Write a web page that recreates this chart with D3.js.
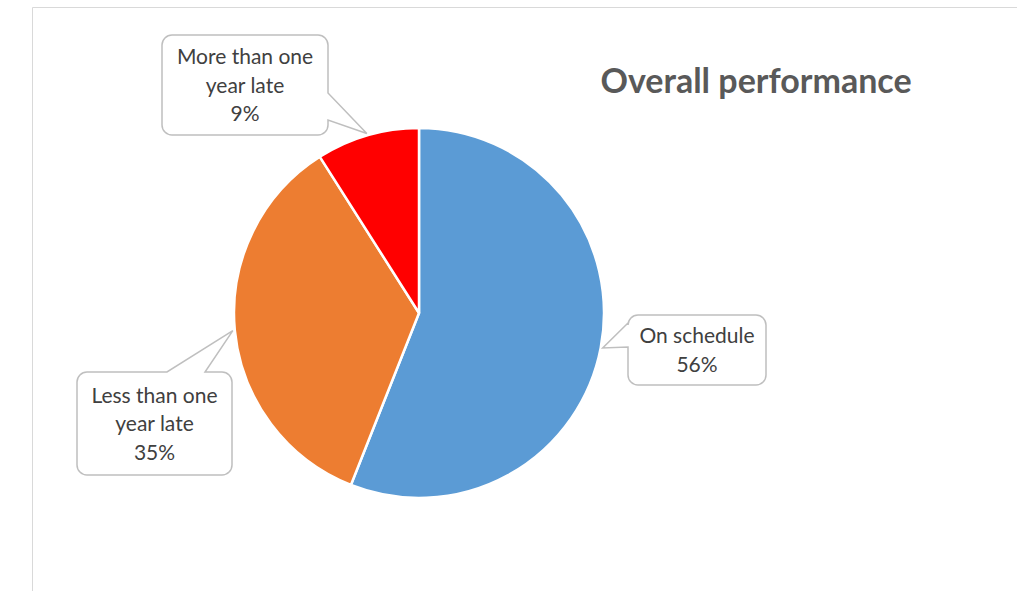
<!DOCTYPE html>
<html>
<head>
<meta charset="utf-8">
<script src="https://cdn.jsdelivr.net/npm/d3@7/dist/d3.min.js"></script>
<style>
  body { margin: 0; background: #fff; }
  svg { display: block; }
  .callout-text { font-family: Lato, "Liberation Sans", sans-serif; fill: #404040; }
</style>
</head>
<body>
<div id="chart"></div>
<script>
    'use strict';

    // chart data
    var categories = ['On schedule', 'Less than one year late', 'More than one year late'];
    var values = [56, 35, 9];
    var labelLines = [['On schedule', '56%'], ['Less than one', 'year late', '35%'], ['More than one', 'year late', '9%']];
    var colors = ['#5b9bd5', '#ed7d31', '#ff0000'];
    var title = 'Overall performance';

    var stage = { width: 1017, height: 591 };
    var center = { x: 419, y: 313 };
    var radius = 185;

    // callout boxes: where the box sits and which side the pointer leaves from
    var callouts = [
        { x: 628, y: 315, w: 138, h: 70, side: 'left', b0: 323, b1: 347 },
        { x: 77, y: 372, w: 155, h: 103, side: 'top', b0: 167, b1: 205 },
        { x: 162, y: 35, w: 166, h: 100, side: 'right', b0: 93, b1: 120 }
    ];

    var svg = d3.select('#chart')
        .append('svg')
        .attr('width', stage.width)
        .attr('height', stage.height)
        .attr('xmlns', 'http://www.w3.org/2000/svg');

    // chart area frame
    svg.append('path')
        .attr('d', 'M32.5,591 V7.5 H1017')
        .attr('fill', 'none')
        .attr('stroke', '#d9d9d9')
        .attr('stroke-width', 1);

    var pie = d3.pie().sort(null).value(function(d) { return d; });
    var arcs = pie(values);

    var arc = d3.arc().innerRadius(0).outerRadius(radius);
    var pointerArc = d3.arc().innerRadius(radius + 2).outerRadius(radius + 2);

    var pieGroup = svg.append('g')
        .attr('transform', 'translate(' + center.x + ',' + center.y + ')');

    pieGroup.selectAll('path')
        .data(arcs).enter()
        .append('path')
        .attr('d', arc)
        .attr('fill', function(d, i) { return colors[i]; })
        .attr('stroke', '#fff')
        .attr('stroke-width', 2.5)
        .attr('stroke-linejoin', 'round');

    // rounded box with a wedge pointing at (ax, ay)
    var calloutPath = function(c, ax, ay) {
        var r = 10;
        var x0 = c.x, y0 = c.y, x1 = c.x + c.w, y1 = c.y + c.h;
        var p = d3.path();
        p.moveTo(x0 + r, y0);
        if (c.side === 'top') {
            p.lineTo(c.b0, y0);
            p.lineTo(ax, ay);
            p.lineTo(c.b1, y0);
        }
        p.lineTo(x1 - r, y0);
        p.arcTo(x1, y0, x1, y0 + r, r);
        if (c.side === 'right') {
            p.lineTo(x1, c.b0);
            p.lineTo(ax, ay);
            p.lineTo(x1, c.b1);
        }
        p.lineTo(x1, y1 - r);
        p.arcTo(x1, y1, x1 - r, y1, r);
        p.lineTo(x0 + r, y1);
        p.arcTo(x0, y1, x0, y1 - r, r);
        if (c.side === 'left') {
            p.lineTo(x0, c.b1);
            p.lineTo(ax, ay);
            p.lineTo(x0, c.b0);
        }
        p.lineTo(x0, y0 + r);
        p.arcTo(x0, y0, x0 + r, y0, r);
        p.closePath();
        return p.toString();
    };

    var labels = svg.append('g').attr('class', 'callouts')
        .selectAll('g').data(arcs).enter()
        .append('g');

    labels.append('path')
        .attr('d', function(d, i) {
            var c = pointerArc.centroid(d);
            return calloutPath(callouts[i], c[0] + center.x, c[1] + center.y);
        })
        .attr('fill', '#fff')
        .attr('stroke', '#bfbfbf')
        .attr('stroke-width', 1.5);

    var lineHeight = 28.5;
    labels.append('text')
        .attr('class', 'callout-text')
        .attr('text-anchor', 'middle')
        .attr('font-size', 21)
        .selectAll('tspan').data(function(d, i) {
            var c = callouts[i];
            var lines = labelLines[i];
            var top = c.y + c.h / 2 - (lines.length - 1) * lineHeight / 2;
            return lines.map(function(t, j) {
                return { text: t, x: c.x + c.w / 2, y: top + j * lineHeight };
            });
        }).enter()
        .append('tspan')
        .attr('x', function(d) { return d.x; })
        .attr('y', function(d) { return d.y; })
        .attr('dy', '0.36em')
        .text(function(d) { return d.text; });

    svg.append('text')
        .attr('x', 756)
        .attr('y', 81)
        .attr('dy', '0.36em')
        .attr('text-anchor', 'middle')
        .attr('font-family', 'Lato, "Liberation Sans", sans-serif')
        .attr('font-weight', 'bold')
        .attr('font-size', 34)
        .attr('fill', '#595959')
        .text(title);
</script>
</body>
</html>
